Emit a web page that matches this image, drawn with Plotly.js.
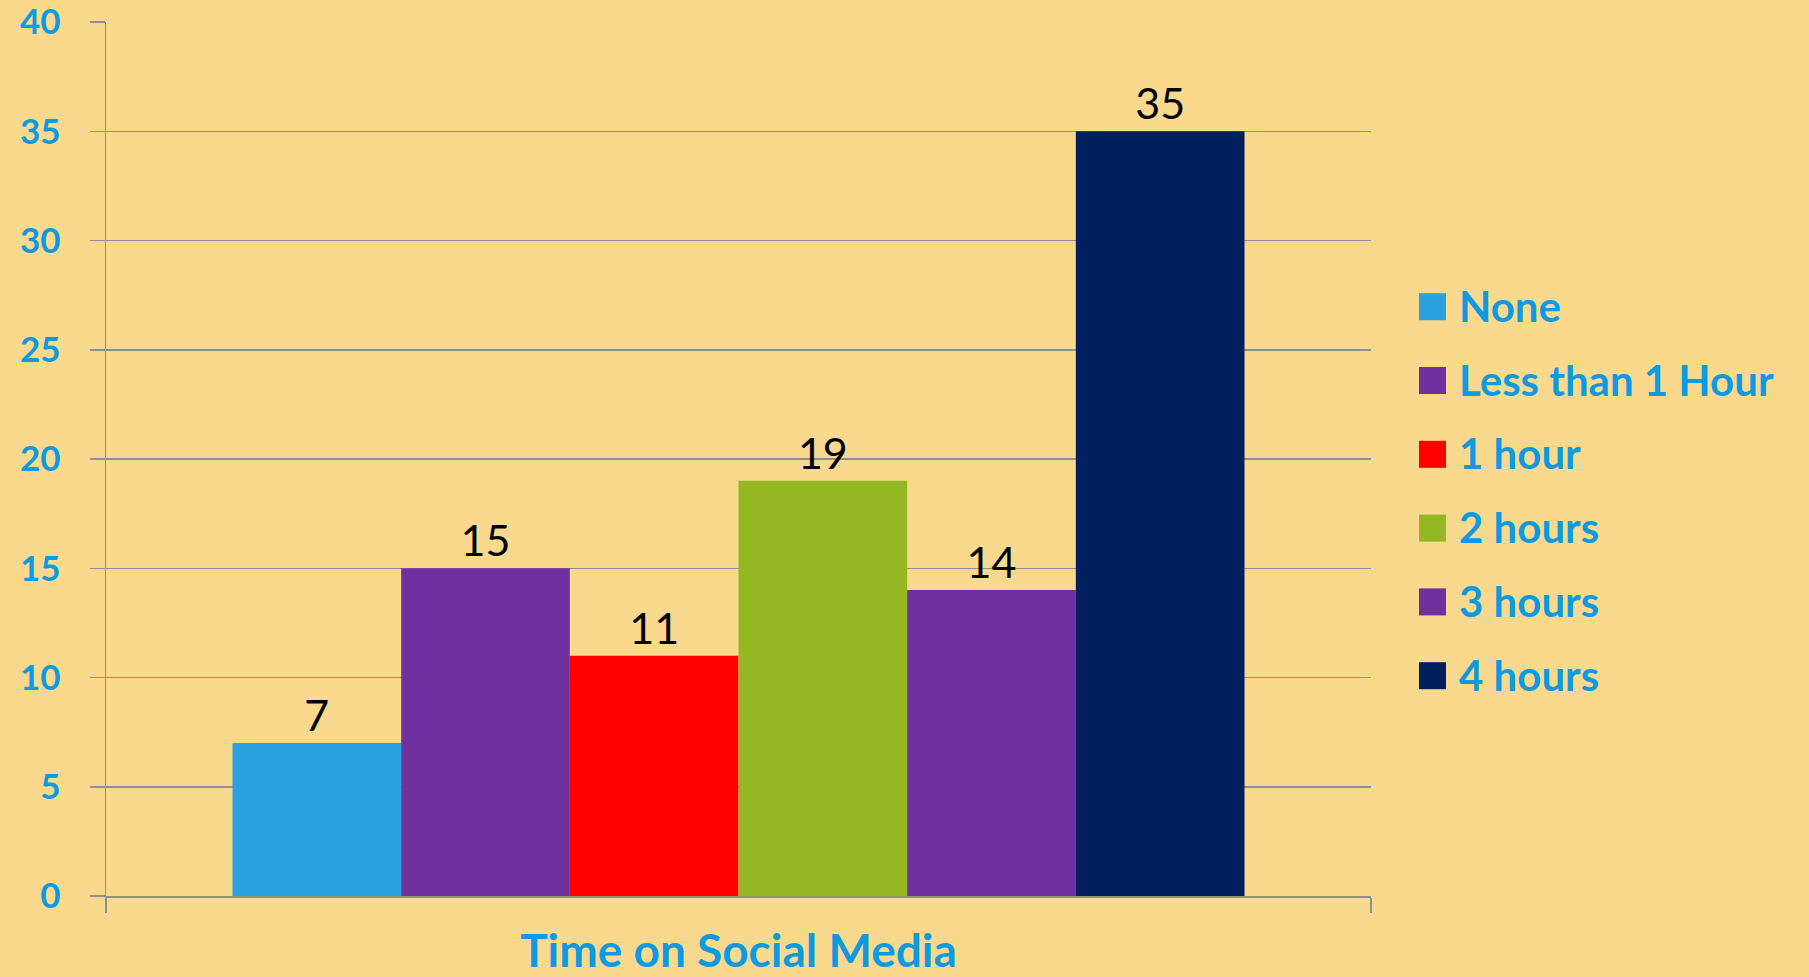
<!DOCTYPE html>
<html>
<head>
<meta charset="utf-8">
<script src="https://cdn.plot.ly/plotly-3.0.1.min.js"></script>
<style>
  html, body { margin: 0; padding: 0; background: #F9D98D; }
  #chart { width: 1809px; height: 977px; }
</style>
</head>
<body>
<div id="chart"></div>
<script>
// ---- data ----
const category = ['Time on Social Media'];
const seriesNames = ['None', 'Less than 1 Hour', '1 hour', '2 hours', '3 hours', '4 hours'];
const seriesValues = [7, 15, 11, 19, 14, 35];
const seriesColors = ['#2CA1E0', '#7030A0', '#FF0000', '#93B823', '#7030A0', '#001F5F'];
const yTicks = [0, 5, 10, 15, 20, 25, 30, 35, 40];

const BG = '#F9D98D';
const BLUE = '#0E9AE0';
const GRID = '#8F8F8F';

const W = 1809, H = 977;
const M = { l: 106, r: 438, t: 22, b: 81 };
const PW = W - M.l - M.r, PH = H - M.t - M.b;

const traces = seriesNames.map((name, i) => ({
  type: 'bar',
  name: name,
  x: category,
  y: [seriesValues[i]],
  marker: { color: seriesColors[i], line: { width: 0 } },
  text: [String(seriesValues[i])],
  textposition: 'outside',
  textfont: { family: 'Lato, sans-serif', size: 43, color: '#000000' },
  cliponaxis: false,
  hoverinfo: 'none',
  showlegend: false
}));

// custom legend (big square swatches), built from the series arrays
const legX0 = 1419, legSq = 27, legTextX = 1457, legY0 = 306.7, legDy = 73.8;
const px2x = p => (p - M.l) / PW;
const py2y = p => (H - M.b - p) / PH;
const shapes = [];
const annotations = [];
seriesNames.forEach((name, i) => {
  const cy = legY0 + i * legDy;
  shapes.push({
    type: 'rect', xref: 'paper', yref: 'paper',
    x0: px2x(legX0), x1: px2x(legX0 + legSq),
    y0: py2y(cy + legSq / 2), y1: py2y(cy - legSq / 2),
    fillcolor: seriesColors[i], line: { width: 0 }
  });
  annotations.push({
    xref: 'paper', yref: 'paper',
    x: px2x(legTextX), y: py2y(cy - 1),
    xanchor: 'left', yanchor: 'middle',
    text: '<b>' + name + '</b>', showarrow: false,
    font: { family: 'Lato, sans-serif', size: 42, color: BLUE }
  });
});

const layout = {
  width: W, height: H,
  paper_bgcolor: BG, plot_bgcolor: BG,
  margin: M,
  barmode: 'group', bargap: 0.2, bargroupgap: 0,
  showlegend: false,
  xaxis: {
    type: 'category',
    showticklabels: false,
    tickson: 'boundaries',
    ticks: 'outside', ticklen: 15, tickwidth: 1.5, tickcolor: GRID,
    showline: true, linecolor: GRID, linewidth: 1.5,
    showgrid: false, zeroline: false,
    fixedrange: true,
    title: { text: '<b>Time on Social Media</b>', standoff: 49,
             font: { family: 'Lato, sans-serif', size: 46, color: BLUE } }
  },
  yaxis: {
    range: [0, 40],
    tickmode: 'array', tickvals: yTicks, ticktext: yTicks.map(v => '<b>' + v + '</b>'),
    ticks: 'outside', ticklen: 15, tickwidth: 1.5, tickcolor: GRID,
    ticklabelstandoff: 22,
    ticklabeloverflow: 'allow',
    tickfont: { family: 'Lato, sans-serif', size: 35, color: BLUE },
    showline: true, linecolor: GRID, linewidth: 1.5,
    showgrid: true, gridcolor: GRID, gridwidth: 1.5,
    zeroline: false,
    fixedrange: true
  },
  shapes: shapes,
  annotations: annotations
};

Plotly.newPlot('chart', traces, layout, { displayModeBar: false, staticPlot: true });
</script>
</body>
</html>
